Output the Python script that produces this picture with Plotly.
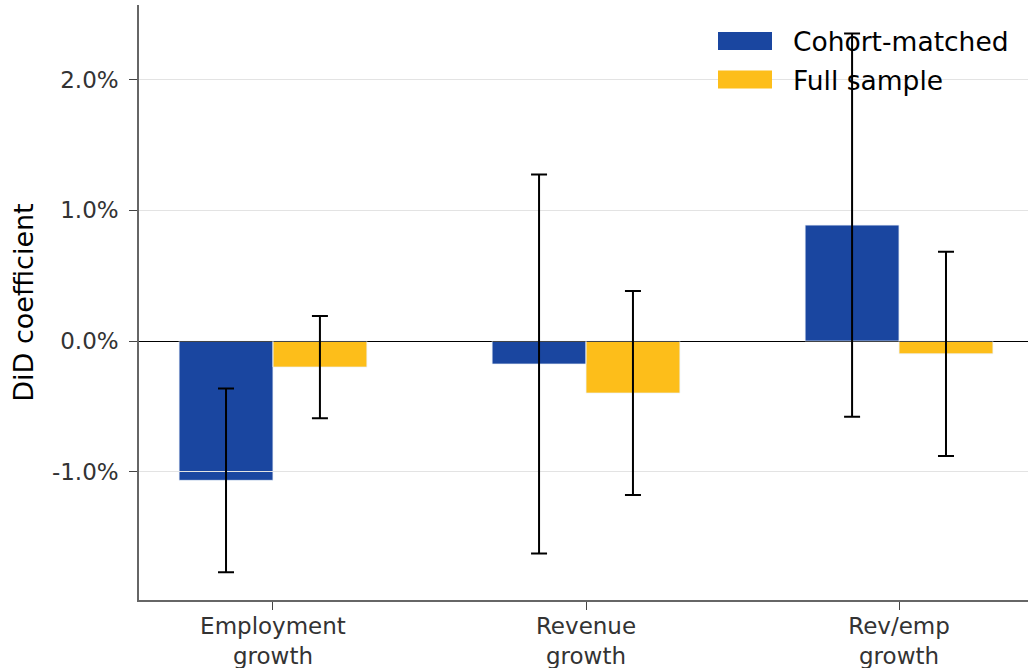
import plotly.graph_objects as go

categories = ["Employment<br>growth", "Revenue<br>growth", "Rev/emp<br>growth"]
series_names = ["Cohort-matched", "Full sample"]
cohort_vals = [-1.065, -0.176, 0.887]
cohort_err = [0.703, 1.449, 1.465]
full_vals = [-0.199, -0.398, -0.097]
full_err = [0.391, 0.780, 0.781]
ytick_vals = [-1.0, 0.0, 1.0, 2.0]
ytick_text = ["-1.0%", "0.0%", "1.0%", "2.0%"]

BLUE = "#1a46a0"
YELLOW = "#fdbe1a"
FONT = "DejaVu Sans"
YRANGE = [-1.98, 2.57]
XRANGE = [-0.428, 2.412]
series_colors = [BLUE, YELLOW]

W, H = 1028, 668
ML, MR, MT, MB = 139, 0, 5, 68
PW, PH = W - ML - MR, H - MT - MB


def px_x(px):
    return (px - ML) / PW


def px_y(py):
    return (H - MB - py) / PH


fig = go.Figure()

# subplot 1: coloured bars (drawn underneath)
for name, vals, col in zip(series_names, [cohort_vals, full_vals], series_colors):
    fig.add_trace(go.Bar(x=categories, y=vals, name=name,
                         marker=dict(color=col, line=dict(color="rgba(255,255,255,0.5)", width=0.8)),
                         showlegend=False, xaxis="x", yaxis="y"))

# subplot 2: gridlines + error bars above the bars
for name, vals, err in zip(series_names, [cohort_vals, full_vals], [cohort_err, full_err]):
    fig.add_trace(go.Bar(x=categories, y=vals, name=name, marker=dict(color="rgba(0,0,0,0)"),
                         error_y=dict(type="data", array=err, visible=True, color="black", thickness=2, width=8),
                         showlegend=False, hoverinfo="skip", xaxis="x2", yaxis="y2"))

# legend (swatches + text), top right
leg_x0, leg_x1, leg_text_x = 718, 772, 791
leg_centers = [41, 79.5]
leg_h = 18
for name, col, cy in zip(series_names, series_colors, leg_centers):
    fig.add_shape(type="rect", xref="paper", yref="paper",
                  x0=px_x(leg_x0), x1=px_x(leg_x1), y0=px_y(cy + leg_h / 2), y1=px_y(cy - leg_h / 2),
                  fillcolor=col, line=dict(width=0), layer="above")
    fig.add_annotation(xref="paper", yref="paper", x=px_x(leg_text_x), y=px_y(cy + 0.5),
                       xanchor="left", yanchor="middle", text=name, showarrow=False,
                       font=dict(size=26.5, color="black", family=FONT))

fig.update_layout(
    width=W, height=H,
    margin=dict(l=ML, r=MR, t=MT, b=MB),
    paper_bgcolor="white", plot_bgcolor="rgba(0,0,0,0)",
    barmode="group", bargap=0.4, bargroupgap=0,
    font=dict(family=FONT, color="black"),
    showlegend=False,
    xaxis=dict(domain=[0, 1], range=XRANGE, visible=False, type="category", automargin=False),
    yaxis=dict(domain=[0, 1], range=YRANGE, visible=False, automargin=False),
    xaxis2=dict(domain=[0, 1], anchor="y2", range=XRANGE, type="category", automargin=False,
                showline=True, linecolor="#666666", linewidth=1.5,
                ticks="outside", ticklen=8, tickwidth=1.2, tickcolor="#444444",
                ticklabelstandoff=-3,
                tickfont=dict(size=23, color="#333333", family=FONT), showgrid=False, zeroline=False),
    yaxis2=dict(domain=[0, 1], anchor="x2", range=YRANGE, automargin=False,
                tickvals=ytick_vals, ticktext=ytick_text,
                showline=True, linecolor="#666666", linewidth=1.5,
                ticks="outside", ticklen=8, tickwidth=1.2, tickcolor="#444444",
                ticklabelstandoff=6,
                tickfont=dict(size=23, color="#333333", family=FONT),
                showgrid=True, gridcolor="#e3e3e3", gridwidth=1,
                zeroline=True, zerolinecolor="black", zerolinewidth=1,
                title=dict(text="DiD coefficient", font=dict(size=27, color="black", family=FONT), standoff=10)),
)

fig.write_html("out.html")
